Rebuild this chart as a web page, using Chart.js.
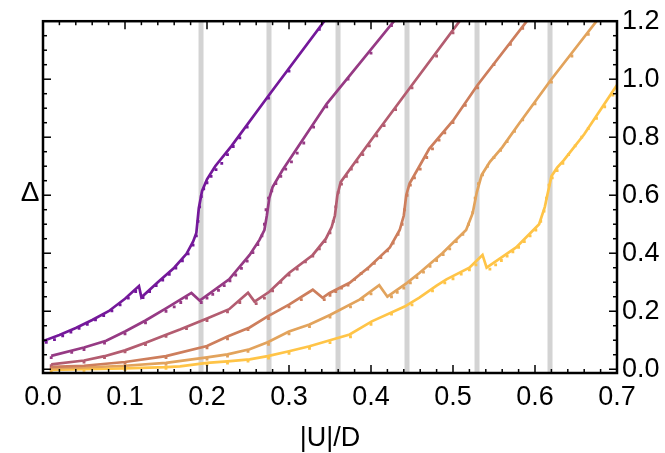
<!DOCTYPE html>
<html>
<head>
<meta charset="utf-8">
<script src="https://cdn.jsdelivr.net/npm/chart.js@4/dist/chart.umd.min.js"></script>
<style>
  html, body { margin: 0; padding: 0; background: #fff; }
  #wrap { width: 665px; height: 453px; }
</style>
</head>
<body>
<div id="wrap"><canvas id="deltaChart"></canvas></div>
<script>
/* DATA */
const xTicks = [0, 0.1, 0.2, 0.3, 0.4, 0.5, 0.6, 0.7];
const yTicks = [0, 0.2, 0.4, 0.6, 0.8, 1.0, 1.2];
const bands = [0.1927, 0.2756, 0.3598, 0.4439, 0.5293, 0.6183];
const colors = ['#74189a', '#963a84', '#b35c70', '#cd7e5c', '#e2a35c', '#ffc447'];

const line1 = [[0, 0.097], [0.02, 0.118], [0.04, 0.142], [0.06, 0.17], [0.08, 0.2], [0.1, 0.243], [0.117, 0.287], [0.12, 0.248], [0.14, 0.3], [0.16, 0.35], [0.175, 0.398], [0.183, 0.44], [0.187, 0.47], [0.19, 0.555], [0.194, 0.615], [0.2, 0.655], [0.21, 0.7], [0.23, 0.77], [0.275, 0.943], [0.343, 1.2]];
const line2 = [[0.01, 0.046], [0.05, 0.075], [0.077, 0.098], [0.1, 0.13], [0.125, 0.168], [0.15, 0.21], [0.181, 0.263], [0.191, 0.237], [0.2, 0.255], [0.227, 0.31], [0.252, 0.394], [0.264, 0.446], [0.27, 0.48], [0.273, 0.53], [0.276, 0.59], [0.28, 0.628], [0.292, 0.686], [0.346, 0.915], [0.428, 1.2]];
const line3 = [[0.01, 0.017], [0.05, 0.03], [0.075, 0.045], [0.1, 0.065], [0.126, 0.092], [0.151, 0.12], [0.167, 0.137], [0.2, 0.175], [0.227, 0.207], [0.25, 0.264], [0.258, 0.233], [0.276, 0.267], [0.3, 0.332], [0.329, 0.394], [0.345, 0.45], [0.352, 0.49], [0.356, 0.53], [0.359, 0.6], [0.363, 0.645], [0.382, 0.72], [0.407, 0.816], [0.45, 0.98], [0.508, 1.2]];
const line4 = [[0.01, 0.008], [0.05, 0.012], [0.1, 0.025], [0.15, 0.045], [0.2, 0.08], [0.225, 0.113], [0.252, 0.144], [0.274, 0.182], [0.3, 0.223], [0.329, 0.274], [0.341, 0.246], [0.349, 0.262], [0.374, 0.298], [0.398, 0.353], [0.423, 0.42], [0.435, 0.48], [0.44, 0.53], [0.443, 0.6], [0.447, 0.64], [0.459, 0.7], [0.471, 0.76], [0.5, 0.857], [0.53, 0.98], [0.59, 1.2]];
const line5 = [[0.01, 0.003], [0.05, 0.006], [0.1, 0.012], [0.15, 0.022], [0.2, 0.041], [0.225, 0.051], [0.252, 0.069], [0.274, 0.093], [0.3, 0.13], [0.325, 0.154], [0.35, 0.187], [0.386, 0.24], [0.41, 0.29], [0.42, 0.25], [0.444, 0.298], [0.459, 0.332], [0.487, 0.4], [0.516, 0.48], [0.524, 0.538], [0.529, 0.61], [0.535, 0.67], [0.545, 0.715], [0.56, 0.765], [0.58, 0.845], [0.62, 1.0], [0.675, 1.2]];
const line6 = [[0.01, -0.002], [0.05, 0.0], [0.1, 0.003], [0.15, 0.007], [0.167, 0.01], [0.2, 0.022], [0.225, 0.027], [0.252, 0.034], [0.274, 0.045], [0.3, 0.062], [0.325, 0.079], [0.35, 0.1], [0.374, 0.12], [0.401, 0.165], [0.441, 0.216], [0.459, 0.247], [0.48, 0.288], [0.492, 0.31], [0.52, 0.35], [0.536, 0.394], [0.541, 0.35], [0.569, 0.405], [0.577, 0.42], [0.605, 0.5], [0.612, 0.56], [0.615, 0.6], [0.62, 0.665], [0.627, 0.695], [0.635, 0.72], [0.66, 0.81], [0.7, 0.98]];

const dots1 = [[0.004, 0.093], [0.014, 0.102], [0.024, 0.115], [0.034, 0.128], [0.044, 0.141], [0.054, 0.155], [0.064, 0.17], [0.074, 0.185], [0.084, 0.201], [0.094, 0.222], [0.104, 0.245], [0.113, 0.268], [0.122, 0.247], [0.13, 0.268], [0.138, 0.288], [0.146, 0.307], [0.154, 0.327], [0.162, 0.349], [0.17, 0.374], [0.177, 0.398], [0.183, 0.428], [0.187, 0.46], [0.189, 0.51], [0.191, 0.56], [0.193, 0.595], [0.196, 0.622], [0.2, 0.643], [0.205, 0.665], [0.211, 0.688], [0.218, 0.71], [0.225, 0.74], [0.232, 0.768], [0.24, 0.798], [0.249, 0.835], [0.275, 0.935], [0.3, 1.028], [0.337, 1.172]];
const dots2 = [[0.01, 0.04], [0.035, 0.058], [0.05, 0.068], [0.075, 0.09], [0.1, 0.122], [0.125, 0.16], [0.15, 0.2], [0.16, 0.215], [0.168, 0.23], [0.175, 0.245], [0.193, 0.23], [0.2, 0.245], [0.207, 0.258], [0.214, 0.272], [0.221, 0.288], [0.228, 0.305], [0.235, 0.325], [0.242, 0.348], [0.249, 0.373], [0.256, 0.402], [0.262, 0.43], [0.267, 0.46], [0.27, 0.5], [0.272, 0.55], [0.275, 0.59], [0.279, 0.615], [0.284, 0.64], [0.29, 0.665], [0.296, 0.69], [0.303, 0.715], [0.31, 0.745], [0.318, 0.78], [0.33, 0.835], [0.346, 0.905], [0.372, 1.0], [0.4, 1.09], [0.425, 1.185]];
const dots3 = [[0.01, 0.012], [0.05, 0.025], [0.075, 0.04], [0.1, 0.06], [0.125, 0.085], [0.15, 0.113], [0.175, 0.14], [0.2, 0.168], [0.225, 0.198], [0.24, 0.23], [0.26, 0.226], [0.27, 0.245], [0.28, 0.27], [0.29, 0.3], [0.3, 0.325], [0.31, 0.345], [0.32, 0.37], [0.329, 0.39], [0.337, 0.415], [0.344, 0.44], [0.35, 0.47], [0.354, 0.51], [0.357, 0.56], [0.36, 0.61], [0.364, 0.638], [0.37, 0.665], [0.376, 0.69], [0.383, 0.715], [0.39, 0.74], [0.398, 0.77], [0.407, 0.805], [0.416, 0.84], [0.43, 0.895], [0.45, 0.97], [0.48, 1.08], [0.5, 1.16]];
const dots4 = [[0.01, 0.003], [0.05, 0.007], [0.1, 0.02], [0.15, 0.04], [0.2, 0.074], [0.225, 0.105], [0.25, 0.137], [0.275, 0.175], [0.3, 0.215], [0.315, 0.24], [0.343, 0.24], [0.35, 0.255], [0.357, 0.268], [0.364, 0.28], [0.372, 0.29], [0.38, 0.31], [0.388, 0.33], [0.396, 0.345], [0.404, 0.365], [0.412, 0.385], [0.42, 0.408], [0.427, 0.435], [0.433, 0.465], [0.438, 0.5], [0.441, 0.55], [0.444, 0.6], [0.448, 0.635], [0.453, 0.66], [0.46, 0.69], [0.468, 0.73], [0.475, 0.76], [0.483, 0.79], [0.49, 0.815], [0.5, 0.85], [0.515, 0.91], [0.53, 0.97], [0.55, 1.05], [0.57, 1.12], [0.585, 1.175]];
const dots5 = [[0.01, 0.0], [0.05, 0.002], [0.1, 0.007], [0.15, 0.017], [0.2, 0.035], [0.225, 0.045], [0.25, 0.062], [0.275, 0.086], [0.3, 0.122], [0.325, 0.147], [0.35, 0.18], [0.375, 0.215], [0.39, 0.24], [0.4, 0.26], [0.425, 0.25], [0.432, 0.265], [0.44, 0.28], [0.448, 0.298], [0.456, 0.316], [0.464, 0.335], [0.472, 0.355], [0.48, 0.375], [0.488, 0.395], [0.496, 0.415], [0.504, 0.44], [0.512, 0.465], [0.519, 0.5], [0.524, 0.54], [0.527, 0.59], [0.531, 0.64], [0.536, 0.67], [0.542, 0.7], [0.55, 0.73], [0.558, 0.755], [0.566, 0.785], [0.575, 0.82], [0.585, 0.86], [0.6, 0.915], [0.62, 0.99], [0.645, 1.08], [0.665, 1.155]];
const dots6 = [[0.01, -0.006], [0.05, -0.004], [0.1, -0.001], [0.15, 0.003], [0.2, 0.017], [0.225, 0.021], [0.25, 0.028], [0.275, 0.038], [0.3, 0.055], [0.325, 0.072], [0.35, 0.092], [0.375, 0.112], [0.4, 0.155], [0.425, 0.19], [0.45, 0.222], [0.475, 0.27], [0.49, 0.298], [0.5, 0.312], [0.51, 0.328], [0.52, 0.343], [0.528, 0.36], [0.545, 0.345], [0.552, 0.36], [0.559, 0.375], [0.566, 0.39], [0.573, 0.405], [0.58, 0.42], [0.587, 0.44], [0.594, 0.46], [0.601, 0.48], [0.607, 0.51], [0.611, 0.545], [0.614, 0.59], [0.617, 0.635], [0.621, 0.66], [0.627, 0.685], [0.634, 0.71], [0.641, 0.74], [0.649, 0.77], [0.657, 0.8], [0.665, 0.83], [0.675, 0.865], [0.685, 0.905], [0.695, 0.945]];

const lines = [line1, line2, line3, line4, line5, line6];
const dots = [dots1, dots2, dots3, dots4, dots5, dots6];

const FONT = '"Liberation Sans", Arial, sans-serif';
Chart.defaults.font.family = FONT;
Chart.defaults.color = '#000';

const toXY = (pts) => pts.map(([x, y]) => ({ x, y }));

const datasets = [];
lines.forEach((pts, i) => {
  datasets.push({
    data: toXY(pts),
    showLine: true,
    borderColor: colors[i],
    borderWidth: 2.7,
    pointRadius: 0,
    order: 1,
  });
  datasets.push({
    data: toXY(dots[i]),
    showLine: false,
    pointStyle: 'rect',
    pointRadius: 2,
    borderWidth: 0,
    backgroundColor: colors[i],
    order: 2,
  });
});

/* gray bands behind the curves */
const bandPlugin = {
  id: 'bands',
  beforeDatasetsDraw(chart) {
    const { ctx, chartArea: a, scales } = chart;
    ctx.save();
    ctx.fillStyle = '#d3d3d3';
    for (const b of bands) {
      const px = scales.x.getPixelForValue(b);
      ctx.fillRect(px - 2.5, a.top, 5, a.bottom - a.top);
    }
    ctx.restore();
  },
};

/* frame with inward ticks, plus the Delta label */
const framePlugin = {
  id: 'frame',
  afterDraw(chart) {
    const { ctx, chartArea: a, scales } = chart;
    ctx.save();
    ctx.strokeStyle = '#000';
    ctx.lineWidth = 1.5;
    const seg = (x1, y1, x2, y2) => {
      ctx.beginPath();
      ctx.moveTo(x1, y1);
      ctx.lineTo(x2, y2);
      ctx.stroke();
    };
    for (let i = 0; i <= 35; i++) {
      const px = scales.x.getPixelForValue(i * 0.02);
      const len = i % 5 === 0 ? 8 : 4;
      seg(px, a.bottom, px, a.bottom - len);
      seg(px, a.top, px, a.top + len);
    }
    for (let i = 0; i <= 24; i++) {
      const py = scales.y.getPixelForValue(i * 0.05);
      const len = i % 4 === 0 ? 8 : 4;
      seg(a.left, py, a.left + len, py);
      seg(a.right, py, a.right - len, py);
    }
    ctx.lineWidth = 2.5;
    ctx.strokeRect(a.left, a.top, a.right - a.left, a.bottom - a.top);

    ctx.fillStyle = '#000';
    ctx.font = '28px ' + FONT;
    ctx.textAlign = 'center';
    ctx.textBaseline = 'middle';
    ctx.fillText('Δ', 30, 193);
    ctx.restore();
  },
};

new Chart(document.getElementById('deltaChart'), {
  type: 'scatter',
  data: { datasets },
  options: {
    responsive: true,
    maintainAspectRatio: false,
    animation: false,
    layout: { padding: 0 },
    plugins: {
      legend: { display: false },
      tooltip: { enabled: false },
    },
    scales: {
      x: {
        type: 'linear',
        position: 'bottom',
        min: 0,
        max: 0.7,
        grid: { display: false, drawTicks: false },
        border: { display: false },
        afterBuildTicks: (s) => { s.ticks = xTicks.map((v) => ({ value: v })); },
        afterFit: (s) => { s.height = 80; },
        ticks: {
          font: { size: 27 },
          padding: 8,
          maxRotation: 0,
          autoSkip: false,
          callback: (v) => Number(v).toFixed(1),
        },
        title: {
          display: true,
          text: '|U|/D',
          font: { size: 27 },
          padding: { top: 0, bottom: -2 },
        },
      },
      xTop: {
        type: 'linear',
        axis: 'x',
        position: 'top',
        min: 0,
        max: 0.7,
        grid: { display: false, drawTicks: false },
        border: { display: false },
        ticks: { display: false },
        afterFit: (s) => { s.height = 20; },
      },
      y: {
        type: 'linear',
        position: 'right',
        min: -0.013,
        max: 1.2,
        grid: { display: false, drawTicks: false },
        border: { display: false },
        afterBuildTicks: (s) => { s.ticks = yTicks.map((v) => ({ value: v })); },
        afterFit: (s) => { s.width = 48; },
        ticks: {
          font: { size: 27 },
          padding: 5,
          callback: (v) => Number(v).toFixed(1),
        },
      },
      yLeft: {
        type: 'linear',
        axis: 'y',
        position: 'left',
        min: -0.013,
        max: 1.2,
        grid: { display: false, drawTicks: false },
        border: { display: false },
        ticks: { display: false },
        afterFit: (s) => { s.width = 43; },
      },
    },
  },
  plugins: [bandPlugin, framePlugin],
});
</script>
</body>
</html>
